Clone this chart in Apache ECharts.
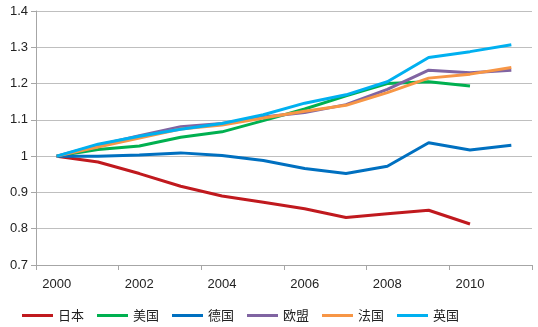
<!DOCTYPE html>
<html><head><meta charset="utf-8">
<script src="https://cdn.jsdelivr.net/npm/echarts@6/dist/echarts.min.js"></script>
<style>html,body{margin:0;padding:0;background:#fff}#c{width:538px;height:327px}</style>
</head><body><div id="c"></div>
<script>
const years = ['2000','2001','2002','2003','2004','2005','2006','2007','2008','2009','2010','2011'];
const japan   = [1.0, 0.984, 0.952, 0.917, 0.890, 0.873, 0.855, 0.831, 0.841, 0.851, 0.813, null];
const usa     = [1.0, 1.018, 1.028, 1.052, 1.067, 1.098, 1.130, 1.166, 1.200, 1.205, 1.193, null];
const germany = [1.0, 1.000, 1.003, 1.009, 1.002, 0.988, 0.966, 0.952, 0.972, 1.037, 1.017, 1.030];
const eu      = [1.0, 1.030, 1.056, 1.081, 1.090, 1.108, 1.120, 1.142, 1.184, 1.237, 1.230, 1.237];
const france  = [1.0, 1.025, 1.050, 1.075, 1.086, 1.105, 1.124, 1.140, 1.175, 1.215, 1.226, 1.244];
const uk      = [1.0, 1.033, 1.055, 1.074, 1.090, 1.114, 1.146, 1.169, 1.205, 1.272, 1.288, 1.307];
const names = ['日本','美国','德国','欧盟','法国','英国'];
const colors = ['#C0191E','#00B050','#0070C0','#8064A2','#F79646','#00B0F0'];
const dataSets = [japan, usa, germany, eu, france, uk];

const font = 'Liberation Sans, Arial, sans-serif';
const chart = echarts.init(document.getElementById('c'));
chart.setOption({
  animation: false,
  grid: {left: 36, right: 6, top: 11, bottom: 62, containLabel: false},
  legend: {
    left: 17, top: 304, icon: 'rect', itemWidth: 31, itemHeight: 3, itemGap: 13,
    textStyle: {fontSize: 13, color: '#222', fontFamily: 'Noto Sans CJK SC'},
    data: names
  },
  xAxis: {
    type: 'category', data: years, boundaryGap: true,
    axisLine: {lineStyle: {color: '#A6A6A6', width: 1}},
    axisTick: {show: true, length: 5, lineStyle: {color: '#A6A6A6'}},
    axisLabel: {interval: 1, fontSize: 13, color: '#222', fontFamily: font, margin: 13},
    splitLine: {show: false}
  },
  yAxis: {
    type: 'value', min: 0.7, max: 1.4, interval: 0.1,
    axisLine: {show: true, lineStyle: {color: '#A6A6A6', width: 1}},
    axisTick: {show: true, length: 5, lineStyle: {color: '#A6A6A6'}},
    axisLabel: {fontSize: 13, color: '#222', fontFamily: font, margin: 8,
      formatter: v => (Math.round(v*10)/10).toString()},
    splitLine: {show: true, lineStyle: {color: '#BFBFBF', width: 1}}
  },
  series: names.map((n, i) => ({
    name: n, type: 'line', data: dataSets[i], symbol: 'none',
    lineStyle: {color: colors[i], width: 3}, itemStyle: {color: colors[i]},
    connectNulls: false
  }))
});
</script></body></html>
